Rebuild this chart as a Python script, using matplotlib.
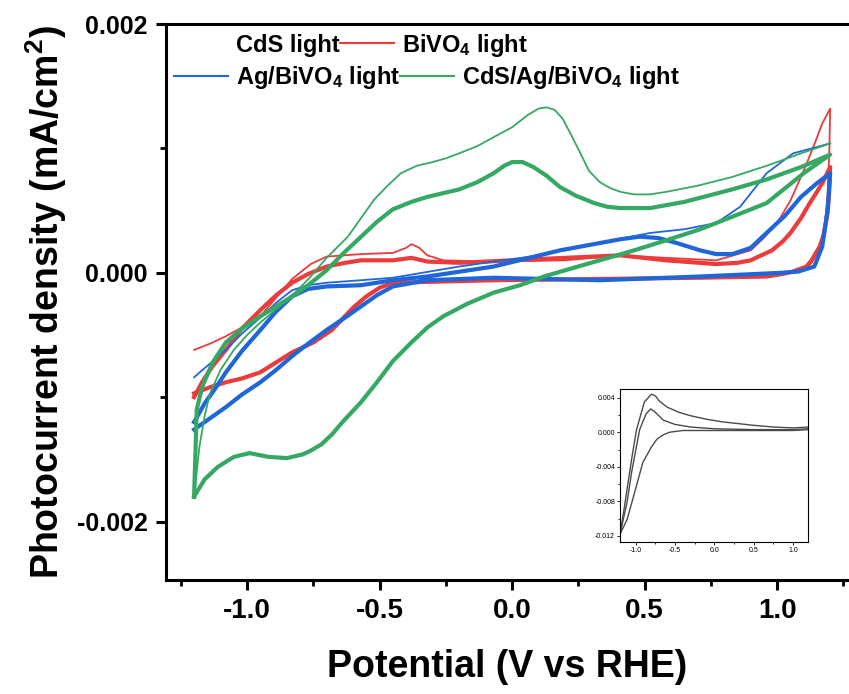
import matplotlib
matplotlib.use('Agg')
import matplotlib.pyplot as plt
from matplotlib.lines import Line2D
from matplotlib.ticker import MultipleLocator, FormatStrFormatter

plt.rcParams['font.family'] = 'Liberation Sans'
plt.rcParams['font.weight'] = 'bold'
plt.rcParams['axes.labelweight'] = 'bold'
plt.rcParams['mathtext.fontset'] = 'custom'
plt.rcParams['mathtext.rm'] = 'Liberation Sans:bold'
plt.rcParams['mathtext.it'] = 'Liberation Sans:bold'
plt.rcParams['mathtext.bf'] = 'Liberation Sans:bold'

# BiVO4 light - first sweep (thin)
bivo4_first_x = [-1.2, -1.14, -1.08, -1.02, -0.95, -0.89, -0.83, -0.76, -0.70, -0.57, -0.45, -0.40, -0.38,
                 -0.35, -0.32, -0.26, -0.07, 0.2, 0.41, 0.58, 0.77, 0.90, 0.95, 1.0, 1.05, 1.1, 1.14, 1.17,
                 1.2, 1.197, 1.19, 1.18, 1.16, 1.13, 1.1]
bivo4_first_y = [-0.00062, -0.00057, -0.00051, -0.00044, -0.00035, -0.00020, -0.00005, 0.00007, 0.00013,
                 0.00015, 0.00016, 0.00020, 0.00023, 0.00020, 0.00014, 0.00010, 0.00009, 0.00010, 0.00014,
                 0.00012, 0.00010, 0.00018, 0.00028, 0.00040, 0.00058, 0.00082, 0.00103, 0.00120, 0.00132,
                 0.00100, 0.00060, 0.00040, 0.00020, 0.00008, 0.00002]
# BiVO4 light - later cycles (thick band)
bivo4_x = [-1.2, -1.17, -1.13, -1.08, -1.02, -0.95, -0.89, -0.83, -0.77, -0.70, -0.63, -0.57, -0.45, -0.38,
           -0.32, -0.20, 0.0, 0.2, 0.41, 0.58, 0.77, 0.85, 0.90, 0.95, 0.98, 1.02, 1.05, 1.09, 1.12, 1.15,
           1.17, 1.2,
           1.195, 1.19, 1.175, 1.16, 1.13, 1.11, 1.06, 1.02, 0.96, 0.7, 0.33, -0.07, -0.45, -0.50, -0.55,
           -0.60, -0.64, -0.68, -0.75, -0.83, -0.89, -0.95, -1.02, -1.08, -1.14, -1.2]
bivo4_y = [-0.00100, -0.00088, -0.00075, -0.00062, -0.00045, -0.00030, -0.00018, -0.00008, -0.00001,
           0.00005, 0.00008, 0.00010, 0.00010, 0.00012, 0.00009, 0.00008, 0.00010, 0.00012, 0.00014,
           0.00010, 0.00007, 0.00008, 0.00010, 0.00015, 0.00018, 0.00025, 0.00032, 0.00044, 0.00055,
           0.00065, 0.00072, 0.00085,
           0.00060, 0.00048, 0.00030, 0.00021, 0.00010, 0.00005, 0.00001, -0.00001, -0.00003, -0.00004,
           -0.00005, -0.00006, -0.00008, -0.00012, -0.00019, -0.00028, -0.00037, -0.00046, -0.00056,
           -0.00064, -0.00072, -0.00080, -0.00085, -0.00088, -0.00092, -0.00097]

# Ag/BiVO4 light
ag_first_x = [-1.2, -1.14, -1.08, -1.02, -0.95, -0.89, -0.83, -0.77, -0.70, -0.57, -0.45, -0.2, 0.1, 0.33,
              0.52, 0.65, 0.77, 0.86, 0.96, 1.06, 1.2]
ag_first_y = [-0.00084, -0.00073, -0.00062, -0.00049, -0.00036, -0.00024, -0.00014, -0.00010, -0.00008,
              -0.00006, -0.00004, 0.00005, 0.00014, 0.00024, 0.00032, 0.00035, 0.00040, 0.00053, 0.00080,
              0.00096, 0.00104]
ag_x = [-1.2, -1.16, -1.12, -1.08, -1.02, -0.95, -0.89, -0.83, -0.77, -0.70, -0.57, -0.45, -0.32, -0.07,
        0.18, 0.41, 0.48, 0.55, 0.62, 0.71, 0.77, 0.83, 0.90, 0.96, 1.03, 1.09, 1.15, 1.2,
        1.19, 1.17, 1.14, 1.08, 1.02, 0.71, 0.33, -0.07, -0.32, -0.45, -0.51, -0.57, -0.63, -0.70, -0.77,
        -0.83, -0.89, -0.95, -1.02, -1.08, -1.14, -1.2]
ag_y = [-0.00120, -0.00105, -0.00093, -0.00080, -0.00063, -0.00046, -0.00031, -0.00019, -0.00013,
        -0.00011, -0.00010, -0.00006, -0.00003, 0.00005, 0.00018, 0.00027, 0.00029, 0.00028, 0.00024,
        0.00018, 0.00015, 0.00015, 0.00020, 0.00032, 0.00046, 0.00061, 0.00072, 0.00080,
        0.00050, 0.00021, 0.00005, 0.00001, 0.0, -0.00003, -0.00006, -0.00004, -0.00006, -0.00011,
        -0.00018, -0.00027, -0.00036, -0.00046, -0.00057, -0.00067, -0.00078, -0.00088, -0.00098,
        -0.00108, -0.00117, -0.00126]

# CdS/Ag/BiVO4 light
cab_first_x = [-1.2, -1.18, -1.16, -1.14, -1.1, -1.05, -1.0, -0.95, -0.9, -0.85, -0.8, -0.76, -0.7, -0.62,
               -0.57, -0.52, -0.47, -0.42, -0.36, -0.3, -0.25, -0.2, -0.13, -0.07, 0.0, 0.06, 0.10, 0.13,
               0.16, 0.19, 0.22, 0.26, 0.29, 0.33, 0.37, 0.41, 0.46, 0.52, 0.58, 0.7, 0.83, 0.96, 1.09, 1.2]
cab_first_y = [-0.00180, -0.00140, -0.00115, -0.00097, -0.00078, -0.00062, -0.00050, -0.00040, -0.00031,
               -0.00022, -0.00012, -0.00003, 0.00012, 0.00029, 0.00044, 0.00059, 0.00070, 0.00080,
               0.00086, 0.00089, 0.00092, 0.00096, 0.00102, 0.00109, 0.00117, 0.00127, 0.00132, 0.00133,
               0.00131, 0.00124, 0.00112, 0.00095, 0.00082, 0.00073, 0.00068, 0.00065, 0.00063, 0.00063,
               0.00065, 0.00070, 0.00077, 0.00086, 0.00096, 0.00104]
cab_x = [-1.2, -1.19, -1.17, -1.13, -1.08, -1.02, -0.95, -0.89, -0.83, -0.77, -0.70, -0.64, -0.57, -0.51,
         -0.45, -0.38, -0.32, -0.26, -0.20, -0.13, -0.07, -0.03, 0.0, 0.04, 0.08, 0.13, 0.18, 0.24, 0.31,
         0.36, 0.41, 0.52, 0.65, 0.83, 0.96, 1.09, 1.2,
         1.1, 0.96, 0.83, 0.71, 0.58, 0.46, 0.33, 0.2, 0.12, 0.03, -0.07, -0.17, -0.26, -0.32, -0.38,
         -0.45, -0.51, -0.57, -0.64, -0.68, -0.72, -0.76, -0.79, -0.85, -0.92, -0.99, -1.05, -1.11, -1.16,
         -1.2]
cab_y = [-0.00180, -0.00110, -0.00092, -0.00072, -0.00056, -0.00045, -0.00035, -0.00027, -0.00019,
         -0.00010, 0.00002, 0.00015, 0.00029, 0.00041, 0.00051, 0.00057, 0.00061, 0.00064, 0.00067,
         0.00073, 0.00080, 0.00086, 0.00089, 0.00089, 0.00085, 0.00078, 0.00069, 0.00062, 0.00056,
         0.00053, 0.00052, 0.00052, 0.00057, 0.00067, 0.00075, 0.00085, 0.00095,
         0.00080, 0.00056, 0.00045, 0.00035, 0.00026, 0.00018, 0.00010, 0.00002, -0.00003, -0.00010,
         -0.00016, -0.00025, -0.00035, -0.00044, -0.00056, -0.00071, -0.00088, -0.00104, -0.00120,
         -0.00130, -0.00138, -0.00143, -0.00146, -0.00149, -0.00148, -0.00145, -0.00148, -0.00156,
         -0.00166, -0.00180]

# inset (CdS)
ins_outer_x = [-1.2, -1.15, -1.11, -1.05, -0.99, -0.89, -0.8, -0.75, -0.7, -0.6, -0.45, -0.3, -0.1, 0.1,
               0.3, 0.5, 0.75, 1.0, 1.2]
ins_outer_y = [-0.0118, -0.009, -0.0066, -0.003, 0.0003, 0.0035, 0.0044, 0.0042, 0.0036, 0.0029, 0.0023,
               0.0019, 0.0015, 0.0012, 0.0010, 0.0008, 0.0006, 0.0005, 0.0006]
ins_mid_x = [-1.2, -1.11, -1.05, -0.95, -0.87, -0.81, -0.75, -0.65, -0.5, -0.3, 0.0, 0.5, 1.0, 1.2]
ins_mid_y = [-0.0118, -0.0081, -0.0045, 0.0003, 0.0021, 0.0027, 0.0023, 0.0014, 0.0009, 0.0006, 0.0004,
             0.0003, 0.0003, 0.0004]
ins_low_x = [-1.2, -1.11, -1.0, -0.91, -0.8, -0.73, -0.65, -0.57, -0.4, 0.0, 0.5, 1.0, 1.2]
ins_low_y = [-0.0118, -0.0101, -0.0065, -0.0035, -0.0017, -0.0008, -0.0003, 0.0, 0.0002, 0.0002, 0.0002,
             0.0002, 0.0003]

red = '#EC3B3B'
blue = '#1F66DA'
green = '#35A864'

fig = plt.figure(figsize=(8.49, 6.94), dpi=100)
ax = fig.add_axes([166 / 849, 1 - 580 / 694, 683 / 849, 556 / 694])

ax.plot(bivo4_x, bivo4_y, color=red, lw=3, solid_joinstyle='round')
ax.plot(bivo4_first_x, bivo4_first_y, color=red, lw=1.3)
ax.plot(ag_x, ag_y, color=blue, lw=3, solid_joinstyle='round')
ax.plot(ag_first_x, ag_first_y, color=blue, lw=1.3)
ax.plot(cab_x, cab_y, color=green, lw=3, solid_joinstyle='round')
ax.plot(cab_first_x, cab_first_y, color=green, lw=1.3)

ax.set_xlim(-1.306, 1.271)
ax.set_ylim(-0.00247, 0.002)
ax.xaxis.set_major_locator(MultipleLocator(0.5))
ax.xaxis.set_minor_locator(MultipleLocator(0.25))
ax.yaxis.set_major_locator(MultipleLocator(0.002))
ax.yaxis.set_minor_locator(MultipleLocator(0.001))
ax.xaxis.set_major_formatter(FormatStrFormatter('%.1f'))
ax.yaxis.set_major_formatter(FormatStrFormatter('%.3f'))
ax.spines['right'].set_visible(False)
for s in ['left', 'top', 'bottom']:
    ax.spines[s].set_linewidth(2.2)
ax.tick_params(which='major', direction='out', length=7, width=2.2)
ax.tick_params(which='minor', direction='out', length=4, width=2)
ax.tick_params(axis='x', labelsize=20, pad=6)
ax.tick_params(axis='y', labelsize=18, pad=6)

ax.set_xlabel('Potential (V vs RHE)', fontsize=27, labelpad=18)
ax.set_ylabel('Photocurrent density (mA/cm$^2$)', fontsize=27, labelpad=6)

# legend laid out as two rows like the original
h_cds = Line2D([], [], color='none')
h_red = Line2D([], [], color=red, lw=1.5)
h_blue = Line2D([], [], color=blue, lw=1.5)
h_green = Line2D([], [], color=green, lw=1.5)
leg_kw = dict(frameon=False, ncol=2, fontsize=17, handlelength=2.3, handletextpad=0.33,
              columnspacing=0.0, borderpad=0, borderaxespad=0, loc='center left')
leg1 = ax.legend([h_cds, h_red], ['CdS light', 'BiVO$_4$ light'],
                 bbox_to_anchor=(0.0117, 0.962), **leg_kw)
ax.add_artist(leg1)
ax.legend([h_blue, h_green], ['Ag/BiVO$_4$ light', 'CdS/Ag/BiVO$_4$ light'],
          bbox_to_anchor=(0.0117, 0.903), **leg_kw)

# inset
axin = fig.add_axes([620 / 849, 1 - 542 / 694, 188 / 849, 153 / 694])
for xs, ys in [(ins_outer_x, ins_outer_y), (ins_mid_x, ins_mid_y), (ins_low_x, ins_low_y)]:
    axin.plot(xs, ys, color='#4a4a4a', lw=1.0)
axin.set_xlim(-1.2, 1.19)
axin.set_ylim(-0.0127, 0.005)
axin.xaxis.set_major_locator(MultipleLocator(0.5))
axin.xaxis.set_minor_locator(MultipleLocator(0.25))
axin.yaxis.set_major_locator(MultipleLocator(0.004))
axin.yaxis.set_minor_locator(MultipleLocator(0.002))
axin.xaxis.set_major_formatter(FormatStrFormatter('%.1f'))
axin.yaxis.set_major_formatter(FormatStrFormatter('%.3f'))
for s in axin.spines.values():
    s.set_linewidth(0.8)
axin.tick_params(which='both', direction='out', labelsize=5, width=0.6, length=2, pad=1.5)
axin.tick_params(which='minor', length=1.2)
for lab in axin.get_xticklabels() + axin.get_yticklabels():
    lab.set_fontweight('normal')

fig.savefig('out.png', dpi=100)
